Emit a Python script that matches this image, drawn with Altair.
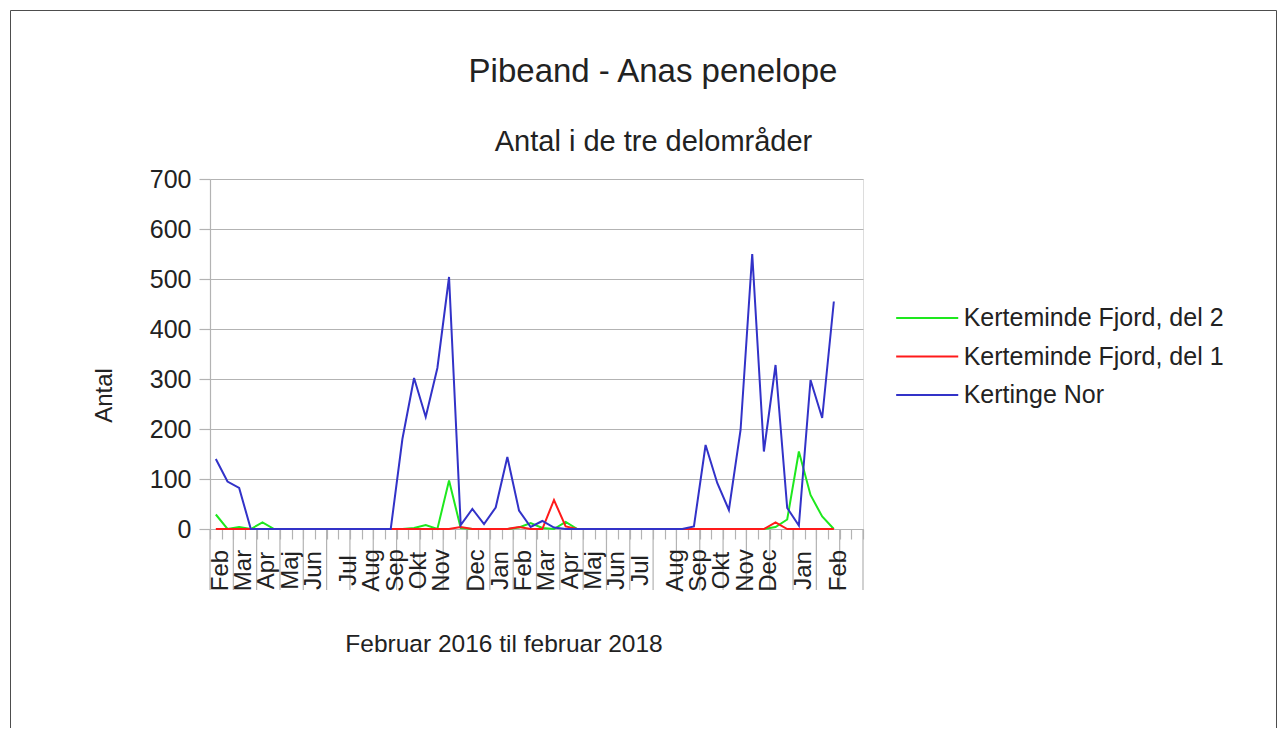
import altair as alt
import pandas as pd

TITLE = "Pibeand - Anas penelope"
SUBTITLE = "Antal i de tre delområder"
Y_TITLE = "Antal"
X_TITLE = "Februar 2016 til februar 2018"

SERIES = ["Kerteminde Fjord, del 2", "Kerteminde Fjord, del 1", "Kertinge Nor"]
COLORS = ["#1ee81e", "#ff1a1a", "#3232c8"]

N_CAT = 56  # categories on the x axis (observations, 54 with counts)

MONTH_LABELS = ["Feb", "Mar", "Apr", "Maj", "Jun", "Jul", "Aug", "Sep", "Okt", "Nov",
                "Dec", "Jan", "Feb", "Mar", "Apr", "Maj", "Jun", "Jul", "Aug", "Sep",
                "Okt", "Nov", "Dec", "Jan", "Feb"]
MONTH_CATEGORY = [0, 2, 4, 6, 8, 11, 13, 15, 17, 19, 22, 24, 26, 28, 30, 32, 34, 36,
                  39, 41, 43, 45, 47, 50, 53]

Y_TICKS = [0, 100, 200, 300, 400, 500, 600, 700]

kerteminde_del2 = [29, 0, 4, 0, 13, 0, 0, 0, 0, 0, 0, 0, 0, 0, 0, 0,
                   0, 2, 8, 0, 97, 2, 0, 0, 0, 0, 3, 12, 2, 0,
                   14, 0, 0, 0, 0, 0, 0, 0, 0, 0, 0,
                   0, 0, 0, 0, 0, 0, 0, 4, 19, 155, 68, 25, 0]
kerteminde_del1 = [0, 0, 0, 0, 0, 0, 0, 0, 0, 0, 0, 0, 0, 0, 0, 0,
                   0, 0, 0, 0, 0, 4, 0, 0, 0, 0, 4, 0, 0, 58,
                   5, 0, 0, 0, 0, 0, 0, 0, 0, 0, 0,
                   0, 0, 0, 0, 0, 0, 0, 13, 0, 0, 0, 0, 0]
kertinge_nor = [140, 95, 82, 0, 0, 0, 0, 0, 0, 0, 0, 0, 0, 0, 0, 0,
                180, 302, 224, 322, 504, 8, 40, 10, 43, 144, 37, 4, 16, 3,
                0, 0, 0, 0, 0, 0, 0, 0, 0, 0, 0,
                5, 168, 92, 38, 198, 550, 155, 328, 42, 7, 298, 222, 455]

TXT = "#222222"
GRID = "#b3b3b3"
FONT = "Liberation Sans"

rows = []
for name, vals in zip(SERIES, [kerteminde_del2, kerteminde_del1, kertinge_nor]):
    for i, v in enumerate(vals):
        rows.append({"idx": i, "antal": v, "series": name})
df = pd.DataFrame(rows)

XSCALE = alt.Scale(domain=[-0.5, N_CAT - 0.5], nice=False, zero=False)
XAXIS = alt.Axis(values=[i - 0.5 for i in range(N_CAT + 1)], labels=False, grid=False,
                 tickSize=10, tickColor=GRID, tickWidth=1.2, domainColor=GRID, domainWidth=1.2,
                 title=X_TITLE, titleX=293.5, titleY=122.5, titleBaseline="alphabetic",
                 titleAlign="center", titleAngle=0, titleFontSize=24.5,
                 titleFontWeight="normal", titleColor=TXT, titleFont=FONT)
YSCALE = alt.Scale(domain=[0, 700], nice=False)
YAXIS = alt.Axis(values=Y_TICKS, grid=True, gridColor=GRID, gridWidth=1.2,
                 domainColor=GRID, domainWidth=1.2, tickColor=GRID, tickWidth=1.2, tickSize=11,
                 labelFontSize=25, labelPadding=8, labelColor=TXT, labelFont=FONT,
                 title=Y_TITLE, titleX=-98.3, titleY=216, titleAngle=270,
                 titleBaseline="alphabetic", titleAlign="center", titleFontSize=24,
                 titleFontWeight="normal", titleColor=TXT, titleFont=FONT)

# long horizontal stroke symbol drawn with a small symbol size
LEGEND = alt.Legend(title=None, orient="none", legendX=704.7, legendY=126.5,
                    symbolType="M-3,0H3", symbolSize=428, symbolStrokeWidth=2,
                    labelFontSize=25, labelColor=TXT, labelFont=FONT, labelOffset=24,
                    rowPadding=12.5, padding=0, labelLimit=600)

X = alt.X("idx:Q", scale=XSCALE, axis=XAXIS)
Y = alt.Y("antal:Q", scale=YSCALE, axis=YAXIS)
COLOR = alt.Color("series:N", scale=alt.Scale(domain=SERIES, range=COLORS), legend=LEGEND)


def line_layer(name):
    return (alt.Chart(df)
            .transform_filter(alt.datum.series == name)
            .mark_line(strokeWidth=2)
            .encode(x=X, y=Y, color=COLOR))


sep_df = pd.DataFrame({"b": [i - 0.5 for i in range(0, N_CAT + 1, 2)]})
separators = alt.Chart(sep_df).mark_rule(color=GRID, strokeWidth=1.2).encode(
    x=alt.X("b:Q", scale=XSCALE, axis=XAXIS), y=alt.value(350), y2=alt.value(411))

month_df = pd.DataFrame({"cat": MONTH_CATEGORY, "label": MONTH_LABELS})
months = alt.Chart(month_df).mark_text(angle=270, align="center", baseline="middle",
                                       fontSize=24, color=TXT, font=FONT, dy=5).encode(
    x=alt.X("cat:Q", scale=XSCALE, axis=XAXIS), y=alt.value(391.5), text="label:N")

title = alt.Chart(pd.DataFrame({"t": [TITLE]})).mark_text(
    fontSize=33, align="center", baseline="alphabetic", color=TXT, font=FONT).encode(
    x=alt.value(443), y=alt.value(-97), text="t:N")
subtitle = alt.Chart(pd.DataFrame({"t": [SUBTITLE]})).mark_text(
    fontSize=29, align="center", baseline="alphabetic", color=TXT, font=FONT).encode(
    x=alt.value(443.5), y=alt.value(-28), text="t:N")

border = alt.Chart(pd.DataFrame({"frame": [1]})).mark_rect(
    fillOpacity=0, stroke="#4d4d4d", strokeWidth=1).encode(
    x=alt.value(-199.5), x2=alt.value(1066.5), y=alt.value(-168.5), y2=alt.value(600))

chart = alt.layer(
    border, separators, months,
    line_layer(SERIES[0]), line_layer(SERIES[1]), line_layer(SERIES[2]),
    title, subtitle,
).properties(
    width=653, height=350,
    autosize=alt.AutoSizeParams(type="none"),
    padding={"left": 202, "top": 171, "right": 414, "bottom": 199},
).configure_view(stroke=None).configure(font=FONT)

chart.save("out.html", embed_options={"renderer": "svg", "actions": False})
